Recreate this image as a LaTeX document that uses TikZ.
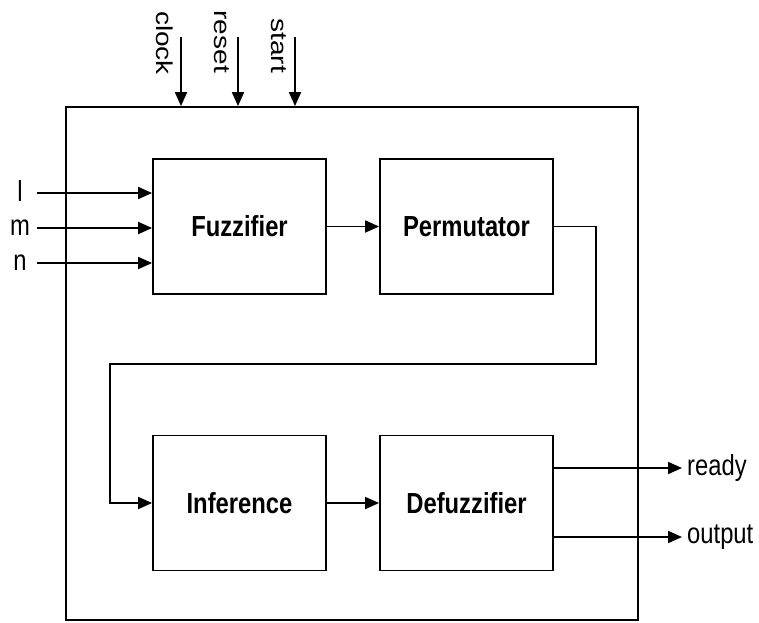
\documentclass[tikz,border=0pt]{standalone}
\usepackage{fontspec}
\setmainfont{Liberation Sans}[FakeStretch=0.82]
\newfontfamily\uprightsans{Liberation Sans}
\usetikzlibrary{arrows.meta}

\tikzset{
  wire/.style={line width=1.8pt,-{Triangle[length=14pt,width=12pt]}},
  block/.style={draw,line width=1.8pt,minimum width=173pt,minimum height=135pt,
                font=\fontsize{29}{32}\selectfont\bfseries},
  pin/.style={font=\fontsize{29}{32}\selectfont,inner sep=2pt},
  vpin/.style={font=\uprightsans\fontsize{28}{30}\selectfont,
               rotate=-90,yscale=0.82,anchor=east,inner sep=0pt}
}

\begin{document}
\begin{tikzpicture}[x=1pt,y=-1pt]
\useasboundingbox (0,0) rectangle (759,622);

%%% chip boundary
\node[draw,line width=1.8pt,minimum width=572pt,minimum height=513pt,inner sep=0pt] (chip) at (352,363.5) {};

%%% processing stages
\node[block] (fuzz) at (239.5,226.5) {Fuzzifier}; % stage 1
\node[block] (perm) at (466.5,226.5) {Permutator}; % stage 2
\node[block] (infer) at (239.5,503) {Inference}; % stage 3
\node[block] (defuzz) at (466.5,503) {Defuzzifier}; % stage 4

%%% data inputs l, m, n
\node[pin] (llbl) at (20,191) {l};
\node[pin] (mlbl) at (20,228) {m};
\node[pin] (nlbl) at (20,263) {n};
\coordinate (lin) at (37,193);
\coordinate (min) at (37,228);
\coordinate (nin) at (37,263);
\draw[wire] (lin) -- (lin -| fuzz.west);
\draw[wire] (min) -- (min -| fuzz.west);
\draw[wire] (nin) -- (nin -| fuzz.west);

%%% control inputs from the top
\coordinate (clk) at (181,37);
\coordinate (rst) at (238,37);
\coordinate (go) at (295,37);
\node[vpin] (clklbl) at (165,75) {clock};
\node[vpin] (rstlbl) at (222,73) {reset};
\node[vpin] (golbl) at (279,73) {start};
\draw[wire] (clk) -- (clk |- chip.north);
\draw[wire] (rst) -- (rst |- chip.north);
\draw[wire] (go) -- (go |- chip.north);

%%% datapath between stages
\coordinate (turn) at (596,364);
\coordinate (back) at (110,364);
\draw[wire] (fuzz) -- (perm);
\draw[wire] (perm.east) -| (turn) -- (back) |- (infer.west); % loop back down
\draw[wire] (infer) -- (defuzz);

%%% outputs
\coordinate (rdy) at (682,468);
\coordinate (res) at (682,537);
\draw[wire] (rdy -| defuzz.east) -- (rdy);
\draw[wire] (res -| defuzz.east) -- (res);
\node[pin,anchor=west] (rdylbl) at ([xshift=3pt]rdy) {ready};
\node[pin,anchor=west] (reslbl) at ([xshift=3pt]res) {output};
\end{tikzpicture}
\end{document}
